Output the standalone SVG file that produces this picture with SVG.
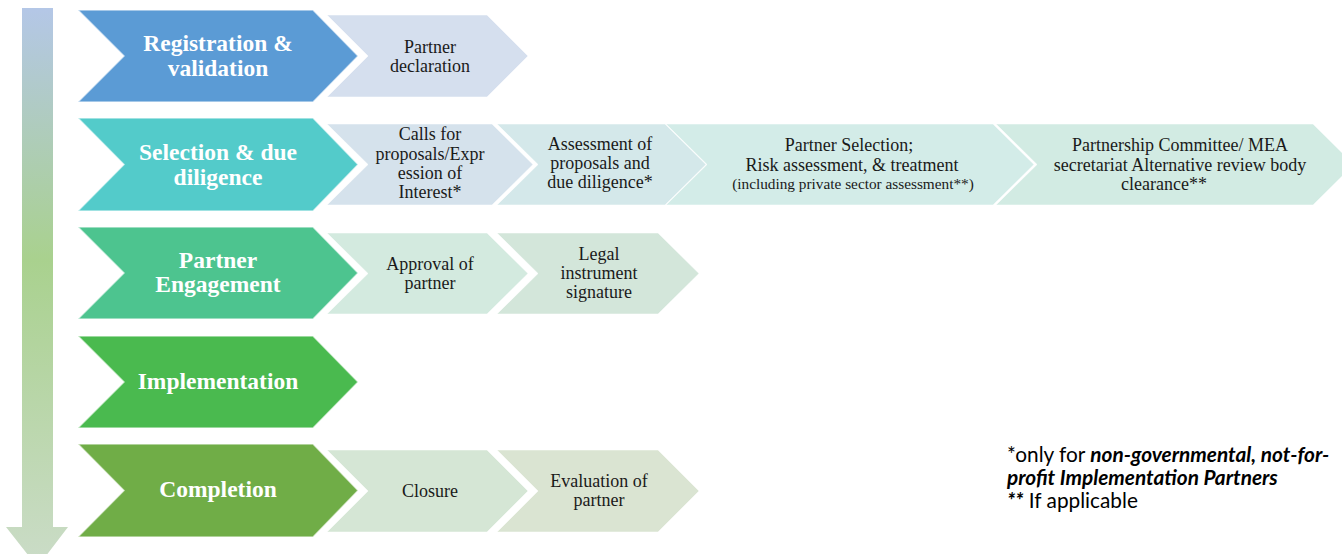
<svg xmlns="http://www.w3.org/2000/svg" width="1342" height="554" viewBox="0 0 1342 554">
  <style>
    .main { stroke: #ffffff; stroke-width: 1.5; stroke-opacity: 0.6; }
    .sub { stroke: #ffffff; stroke-width: 1; stroke-opacity: 0.5; }
    .mlabel { font-family: "Liberation Serif", "Times New Roman", serif; font-weight: bold; font-size: 23.5px; fill: #ffffff; text-anchor: middle; }
    .slabel { font-family: "Liberation Serif", "Times New Roman", serif; font-size: 18px; fill: #1a1a1a; text-anchor: middle; }
    .small { font-size: 15.3px; }
    .note { font-family: "Lato", "Open Sans", sans-serif; font-size: 20.8px; fill: #000000; }
  </style>
  <defs>
    <linearGradient id="flow" x1="0" y1="0" x2="0" y2="1">
      <stop offset="0" stop-color="#b4c7e7"/>
      <stop offset="0.45" stop-color="#a9d18e"/>
      <stop offset="1" stop-color="#cbdcc8"/>
    </linearGradient>
  </defs>

  <!-- vertical process arrow -->
  <g id="timeline">
    <path d="M22,8 H53 V527 H68 L37.5,567 L6,527 H22 Z" fill="url(#flow)"/>
  </g>

  <!-- stage chevrons -->
  <g id="stage-registration">
    <path class="main" fill="#5b9bd5" d="M78,10 H313 L358,56 L313,102 H78 L124,56 Z"/>
    <text class="mlabel" x="218" y="51">Registration &amp;</text>
    <text class="mlabel" x="218" y="76">validation</text>
  </g>
  <g id="stage-selection">
    <path class="main" fill="#53cbca" d="M78,118 H313 L358,164.5 L313,211 H78 L124,164.5 Z"/>
    <text class="mlabel" x="218" y="160">Selection &amp; due</text>
    <text class="mlabel" x="218" y="185">diligence</text>
  </g>
  <g id="stage-engagement">
    <path class="main" fill="#4dc48f" d="M78,227 H313 L358,273 L313,319 H78 L124,273 Z"/>
    <text class="mlabel" x="218" y="268">Partner</text>
    <text class="mlabel" x="218" y="292">Engagement</text>
  </g>
  <g id="stage-implementation">
    <path class="main" fill="#4aba4f" d="M78,336 H313 L358,382 L313,428 H78 L124,382 Z"/>
    <text class="mlabel" x="218" y="389">Implementation</text>
  </g>
  <g id="stage-completion">
    <path class="main" fill="#70ad47" d="M78,444 H313 L358,490.5 L313,537 H78 L124,490.5 Z"/>
    <text class="mlabel" x="218" y="497">Completion</text>
  </g>

  <!-- step chevrons -->
  <g id="step-declaration">
    <path class="sub" fill="#d5dfee" d="M327,15 H487 L528,56 L487,97 H327 L368,56 Z"/>
    <text class="slabel" x="430" y="53">Partner</text>
    <text class="slabel" x="430" y="72">declaration</text>
  </g>

  <g id="step-calls">
    <path class="sub" fill="#d5e2ec" d="M327,124 H492 L533,164.5 L492,205 H327 L368,164.5 Z"/>
    <text class="slabel" x="430" y="140">Calls for</text>
    <text class="slabel" x="430" y="159.5">proposals/Expr</text>
    <text class="slabel" x="430" y="179">ession of</text>
    <text class="slabel" x="430" y="198">Interest*</text>
  </g>
  <g id="step-assessment">
    <path class="sub" fill="#d4e8ea" d="M497,124 H665 L706,164.5 L665,205 H497 L538,164.5 Z"/>
    <text class="slabel" x="600" y="149.5">Assessment of</text>
    <text class="slabel" x="600" y="169">proposals and</text>
    <text class="slabel" x="600" y="188">due diligence*</text>
  </g>
  <g id="step-selection">
    <path class="sub" fill="#d3ece8" d="M666,124 H993 L1034,164.5 L993,205 H666 L707,164.5 Z"/>
    <text class="slabel" x="849" y="151">Partner Selection;</text>
    <text class="slabel" x="852" y="171">Risk assessment, &amp; treatment</text>
    <text class="slabel small" x="853" y="189">(including private sector assessment**)</text>
  </g>
  <g id="step-committee">
    <path class="sub" fill="#d2ebe3" d="M996,124 H1313 L1354,164.5 L1313,205 H996 L1037,164.5 Z"/>
    <text class="slabel" x="1180" y="151">Partnership Committee/ MEA</text>
    <text class="slabel" x="1180" y="171">secretariat Alternative review body</text>
    <text class="slabel" x="1164" y="190">clearance**</text>
  </g>

  <g id="step-approval">
    <path class="sub" fill="#d3eadf" d="M327,233 H487 L528,273.5 L487,314 H327 L368,273.5 Z"/>
    <text class="slabel" x="430" y="270">Approval of</text>
    <text class="slabel" x="430" y="289">partner</text>
  </g>
  <g id="step-legal">
    <path class="sub" fill="#d3e6da" d="M497,233 H658 L699,273.5 L658,314 H497 L538,273.5 Z"/>
    <text class="slabel" x="599" y="260">Legal</text>
    <text class="slabel" x="599" y="279">instrument</text>
    <text class="slabel" x="599" y="298">signature</text>
  </g>

  <g id="step-closure">
    <path class="sub" fill="#d5e6d5" d="M327,450 H487 L528,491 L487,532 H327 L368,491 Z"/>
    <text class="slabel" x="430" y="497">Closure</text>
  </g>
  <g id="step-evaluation">
    <path class="sub" fill="#dae4d2" d="M497,450 H658 L699,491 L658,532 H497 L538,491 Z"/>
    <text class="slabel" x="599" y="487">Evaluation of</text>
    <text class="slabel" x="599" y="506">partner</text>
  </g>

  <!-- footnotes -->
  <g id="notes">
    <text class="note" x="1007" y="462">*only for <tspan font-weight="bold" font-style="italic">non-governmental, not-for-</tspan></text>
    <text class="note" x="1007" y="485"><tspan font-weight="bold" font-style="italic">profit Implementation Partners</tspan></text>
    <text class="note" x="1007" y="508"><tspan font-weight="bold" font-style="italic">**</tspan> If applicable</text>
  </g>
</svg>
